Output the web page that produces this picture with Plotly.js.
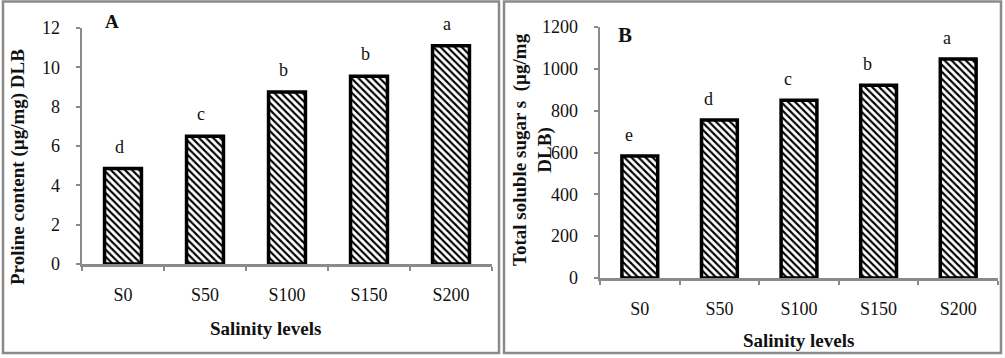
<!DOCTYPE html>
<html>
<head>
<meta charset="utf-8">
<script src="https://cdn.plot.ly/plotly-3.0.1.min.js"></script>
<style>html,body{margin:0;padding:0;background:#fff;}#chart{width:1005px;height:358px;}</style>
</head>
<body>
<div id="chart"></div>
<script>
// ---- data ----
var categories = ['S0', 'S50', 'S100', 'S150', 'S200'];
var prolineValues = [4.85, 6.5, 8.75, 9.55, 11.1];
var prolineLetters = ['d', 'c', 'b', 'b', 'a'];
var sugarValues = [583, 755, 850, 922, 1047];
var sugarLetters = ['e', 'd', 'c', 'b', 'a'];
var prolineTicks = [0, 2, 4, 6, 8, 10, 12];
var sugarTicks = [0, 200, 400, 600, 800, 1000, 1200];

// ---- helpers ----
var W = 1005, H = 358;
function px(x) { return x / W; }
function py(y) { return 1 - y / H; }
var SERIF = 'Liberation Serif, Times New Roman, serif';
var GRAY = '#8a8a8a';

var barMarker = {
  color: 'white',
  line: {color: 'black', width: 3.5},
  pattern: {shape: '\\', fgcolor: 'black', bgcolor: 'white', size: 5, solidity: 0.42, fillmode: 'replace'}
};

var traces = [
  {type: 'bar', x: categories, y: prolineValues, xaxis: 'x', yaxis: 'y', width: 0.45, marker: barMarker, hoverinfo: 'skip'},
  {type: 'bar', x: categories, y: sugarValues, xaxis: 'x2', yaxis: 'y2', width: 0.45, marker: barMarker, hoverinfo: 'skip'}
];

function xAxis(domain, anchor) {
  return {
    domain: domain, anchor: anchor, type: 'category',
    showline: true, linecolor: GRAY, linewidth: 2.5,
    ticks: 'outside', tickson: 'boundaries', ticklen: 4, tickcolor: GRAY, tickwidth: 2,
    tickfont: {family: SERIF, size: 18, color: '#111'},
    ticklabelstandoff: 13,
    showgrid: false, zeroline: false, fixedrange: true
  };
}
function yAxis(domain, anchor, range, ticks) {
  return {
    domain: domain, anchor: anchor, range: range,
    tickvals: ticks, ticktext: ticks.map(String),
    showline: true, linecolor: GRAY, linewidth: 2.5,
    ticks: 'outside', ticklen: 4, tickcolor: GRAY, tickwidth: 2,
    tickfont: {family: SERIF, size: 18, color: '#111'},
    ticklabelstandoff: 12,
    showgrid: false, zeroline: false, fixedrange: true
  };
}

var annotations = [];
categories.forEach(function (c, i) {
  annotations.push({xref: 'x', yref: 'y', x: c, y: prolineValues[i], text: prolineLetters[i],
    showarrow: false, yanchor: 'middle', yshift: 22, xshift: -4,
    font: {family: SERIF, size: 18, color: '#111'}});
  annotations.push({xref: 'x2', yref: 'y2', x: c, y: sugarValues[i], text: sugarLetters[i],
    showarrow: false, yanchor: 'middle', yshift: 21, xshift: -11,
    font: {family: SERIF, size: 18, color: '#111'}});
});

var titleFont = {family: SERIF, size: 19, color: '#111', weight: 'bold'};
annotations.push(
  {xref: 'paper', yref: 'paper', x: px(18), y: py(167), text: '<b>Proline content (µg/mg) DLB</b>',
    textangle: -90, showarrow: false, xanchor: 'center', yanchor: 'middle', font: titleFont},
  {xref: 'paper', yref: 'paper', x: px(265), y: py(328), text: '<b>Salinity levels</b>',
    showarrow: false, xanchor: 'center', yanchor: 'middle', font: titleFont},
  {xref: 'paper', yref: 'paper', x: px(533), y: py(150), text: '<b>Total soluble sugar s  (µg/mg<br>DLB)</b>',
    textangle: -90, showarrow: false, xanchor: 'center', yanchor: 'middle', font: titleFont},
  {xref: 'paper', yref: 'paper', x: px(798), y: py(340), text: '<b>Salinity levels</b>',
    showarrow: false, xanchor: 'center', yanchor: 'middle', font: titleFont},
  {xref: 'paper', yref: 'paper', x: px(112), y: py(22), text: '<b>A</b>',
    showarrow: false, xanchor: 'center', yanchor: 'middle', font: {family: SERIF, size: 19, color: '#111'}},
  {xref: 'paper', yref: 'paper', x: px(625), y: py(35), text: '<b>B</b>',
    showarrow: false, xanchor: 'center', yanchor: 'middle', font: {family: SERIF, size: 21, color: '#111'}}
);

var shapes = [
  {type: 'rect', xref: 'paper', yref: 'paper', x0: px(3), x1: px(499), y0: py(1.5), y1: py(353),
    line: {color: GRAY, width: 2.5}},
  {type: 'rect', xref: 'paper', yref: 'paper', x0: px(504), x1: px(1001), y0: py(1.5), y1: py(353),
    line: {color: GRAY, width: 2.5}}
];

var layout = {
  width: W, height: H,
  margin: {l: 0, r: 0, t: 0, b: 0},
  paper_bgcolor: 'white', plot_bgcolor: 'rgba(0,0,0,0)',
  showlegend: false,
  bargap: 0.55,
  xaxis: xAxis([px(82), px(492)], 'y'),
  yaxis: yAxis([py(264), py(28)], 'x', [0, 12], prolineTicks),
  xaxis2: xAxis([px(600), px(998)], 'y2'),
  yaxis2: yAxis([py(278), py(27)], 'x2', [0, 1200], sugarTicks),
  annotations: annotations,
  shapes: shapes
};

Plotly.newPlot('chart', traces, layout, {displayModeBar: false, staticPlot: true});
</script>
</body>
</html>
